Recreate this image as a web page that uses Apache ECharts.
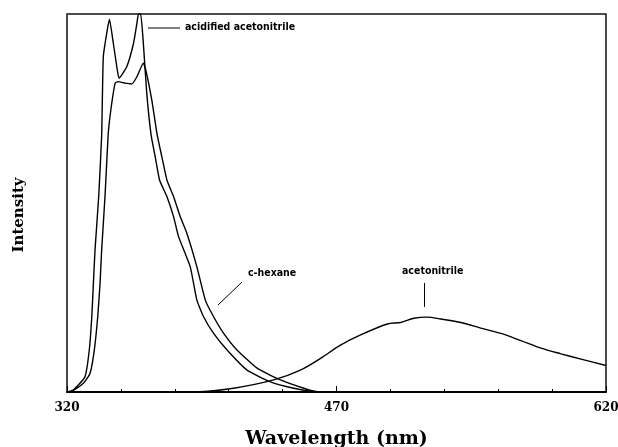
<!DOCTYPE html>
<html>
<head>
<meta charset="utf-8">
<script src="https://cdn.jsdelivr.net/npm/echarts@6/dist/echarts.min.js"></script>
<style>html,body{margin:0;padding:0;background:#fff;}#c{width:618px;height:447px;}</style>
</head>
<body>
<div id="c"></div>
<script>
// Wavelength (nm) and relative intensity
const acidWl = [320, 320.7, 323.5, 330.0, 332.4, 333.8, 334.7, 335.6, 337.7, 339.3, 340.2, 342.1, 343.6, 345.8, 347.7, 349.0, 353.3, 357.0, 358.9, 359.8, 361.0, 362.5, 364.4, 366.8, 369.1, 371.5, 375.6, 379.3, 382.1, 388.6, 392.3, 396.0, 401.6, 409.1, 420.2, 433.2, 446.2, 457.3, 480, 620];
const acidI  = [0, 0.1, 0.5, 4.0, 11.1, 19.9, 28.8, 37.6, 52.1, 68, 88.7, 94.9, 98.6, 92.2, 86.1, 83.0, 86.1, 92.2, 97.5, 100, 100, 92.2, 79.0, 68, 62.2, 56.1, 51.7, 46.4, 41.1, 33.1, 24.3, 19.9, 15.5, 11.1, 5.8, 2.7, 1.0, 0.1, 0, 0];

const hexWl = [320, 321.7, 323.5, 329.1, 332.8, 335.2, 337.1, 338.4, 339.3, 341.2, 342.9, 344.4, 346.8, 348.6, 352.3, 356.1, 358.9, 362.5, 364.1, 367.2, 370.2, 372.8, 375.6, 379.3, 383.0, 386.7, 392.3, 397.0, 401.6, 407.2, 414.6, 425.8, 438.8, 451.8, 459.2, 477.8, 620];
const hexI  = [0, 0.1, 0.4, 2.3, 4.9, 11.1, 19.9, 28.8, 37.6, 52.1, 68, 74.6, 81.7, 82.1, 81.7, 81.5, 83.4, 87.0, 84.7, 77.2, 68, 62.2, 56.1, 51.7, 46.4, 42.0, 33.1, 24.3, 19.9, 15.5, 11.1, 6.3, 3.2, 1.0, 0.1, 0, 0];

const acnWl = [320, 366.3, 394.2, 412.7, 435.0, 449.9, 461.1, 472.2, 483.4, 498.3, 505.7, 513.1, 520.6, 528.0, 539.2, 550.3, 561.5, 572.6, 583.8, 594.9, 606.1, 620];
const acnI  = [0, 0, 0.1, 1.0, 3.2, 5.8, 8.9, 12.4, 15.1, 18.0, 18.4, 19.5, 19.8, 19.3, 18.4, 16.9, 15.5, 13.6, 11.6, 10.1, 8.7, 7.0];

const xTicks = [320, 470, 620];
const seriesNames = ['acidified acetonitrile', 'c-hexane', 'acetonitrile'];

const zip = (a, b) => a.map((v, i) => [v, b[i]]);

const chart = echarts.init(document.getElementById('c'), null, {renderer: 'canvas'});
const lineStyle = {color: '#000', width: 1.4};
const serifBold = {fontFamily: 'DejaVu Serif', fontWeight: 'bold', color: '#000'};
const annFont = {fontFamily: 'DejaVu Sans Condensed', fontWeight: 'bold', fontSize: 10.5, fill: '#000'};

chart.setOption({
  backgroundColor: '#fff',
  animation: false,
  grid: {left: 67, right: 12, top: 14, bottom: 55, show: true, borderColor: '#111', borderWidth: 1.5,
         containLabel: false, outerBoundsMode: 'none'},
  xAxis: {
    type: 'value', min: 320, max: 620, interval: 150, splitNumber: 5,
    name: 'Wavelength (nm)', nameLocation: 'middle', nameGap: 38,
    nameTextStyle: Object.assign({fontSize: 19}, serifBold),
    axisLine: {show: true, lineStyle: {color: '#000', width: 2}},
    axisTick: {show: true, inside: true, length: 6, lineStyle: {color: '#000', width: 1}},
    minorTick: {show: true, splitNumber: 5, length: 3, lineStyle: {color: '#000', width: 1}},
    axisLabel: Object.assign({fontSize: 12, margin: 10,
      formatter: v => xTicks.indexOf(v) >= 0 ? String(v) : ''}, serifBold),
    splitLine: {show: false}
  },
  yAxis: {
    type: 'value', min: 0, max: 100,
    name: 'Intensity', nameLocation: 'middle', nameGap: 40, nameRotate: 90,
    nameTextStyle: Object.assign({fontSize: 15, padding: [0, 24, 0, 0]}, serifBold),
    axisLine: {show: true, lineStyle: {color: '#444', width: 1}},
    axisTick: {show: false}, axisLabel: {show: false}, splitLine: {show: false}
  },
  series: [
    {name: seriesNames[0], type: 'line', data: zip(acidWl, acidI), smooth: 0.15, showSymbol: false, lineStyle: lineStyle, clip: true},
    {name: seriesNames[1], type: 'line', data: zip(hexWl, hexI), smooth: 0.15, showSymbol: false, lineStyle: lineStyle, clip: true},
    {name: seriesNames[2], type: 'line', data: zip(acnWl, acnI), smooth: 0.3, showSymbol: false, lineStyle: lineStyle, clip: true}
  ],
  graphic: [
    {type: 'line', shape: {x1: 148, y1: 28, x2: 180, y2: 28}, style: {stroke: '#000', lineWidth: 1}},
    {type: 'text', left: 185, top: 22, style: Object.assign({text: seriesNames[0]}, annFont)},
    {type: 'line', shape: {x1: 218, y1: 305, x2: 242, y2: 282}, style: {stroke: '#000', lineWidth: 1}},
    {type: 'text', left: 248, top: 268, style: Object.assign({text: seriesNames[1]}, annFont)},
    {type: 'line', shape: {x1: 424.5, y1: 283, x2: 424.5, y2: 307}, style: {stroke: '#000', lineWidth: 1}},
    {type: 'text', left: 402, top: 266, style: Object.assign({text: seriesNames[2]}, annFont)}
  ]
});
</script>
</body>
</html>
